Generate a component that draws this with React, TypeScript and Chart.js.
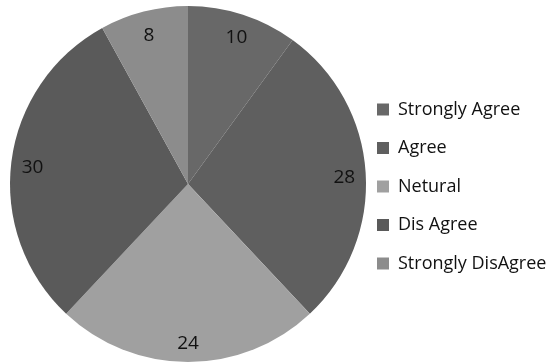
import React, { useEffect, useRef } from "react";
import { Chart, registerables } from "chart.js";

Chart.register(...registerables);

const categories = ["Strongly Agree", "Agree", "Netural", "Dis Agree", "Strongly DisAgree"];
const values = [10, 28, 24, 30, 8];
const colors = ["#686868", "#5f5f5f", "#a0a0a0", "#5a5a5a", "#8c8c8c"];

const FONT = "'Open Sans', sans-serif";

const sliceLabels = {
  id: "sliceLabels",
  afterDatasetsDraw(chart: any) {
    const ctx = chart.ctx;
    const meta = chart.getDatasetMeta(0);
    ctx.save();
    ctx.fillStyle = "#111";
    ctx.font = `19px ${FONT}`;
    ctx.textAlign = "center";
    ctx.textBaseline = "middle";
    meta.data.forEach((arc: any, i: number) => {
      const p = arc.getProps(["x", "y", "startAngle", "endAngle", "outerRadius"], true);
      const mid = (p.startAngle + p.endAngle) / 2;
      const r = p.outerRadius * 0.88;
      ctx.fillText(String(values[i]), p.x + Math.cos(mid) * r, p.y + Math.sin(mid) * r + 3);
    });
    ctx.restore();
  },
};

export default function App() {
  const ref = useRef<HTMLCanvasElement>(null);
  useEffect(() => {
    const chart: any = new Chart(ref.current!, {
      type: "pie",
      data: {
        labels: categories,
        datasets: [
          {
            data: values,
            backgroundColor: colors,
            borderWidth: 0,
          },
        ],
      },
      options: {
        animation: false,
        responsive: false,
        layout: { padding: { top: 6, bottom: 2, left: 0, right: 0 } },
        plugins: {
          tooltip: { enabled: false },
          legend: {
            position: "right",
            align: "center",
            labels: {
              boxWidth: 12,
              boxHeight: 12,
              padding: 20.5,
              color: "#111",
              font: { family: FONT, size: 18 },
            },
          },
        },
      },
      plugins: [sliceLabels],
    });
    const legend = chart.legend;
    const origFit = legend.fit;
    legend.fit = function () {
      origFit.call(this);
      this.width = 172;
    };
    const origDraw = legend._draw;
    legend._draw = function (...args: any[]) {
      const c = this.ctx;
      c.save();
      c.translate(-19.5, 2.5);
      origDraw.apply(this, args);
      c.restore();
    };
    chart.update();
    return () => chart.destroy();
  }, []);
  return (
    <div style={{ position: "fixed", left: 0, top: 0, width: 548, height: 364, background: "#fff" }}>
      <canvas ref={ref} width={548} height={364} />
    </div>
  );
}
